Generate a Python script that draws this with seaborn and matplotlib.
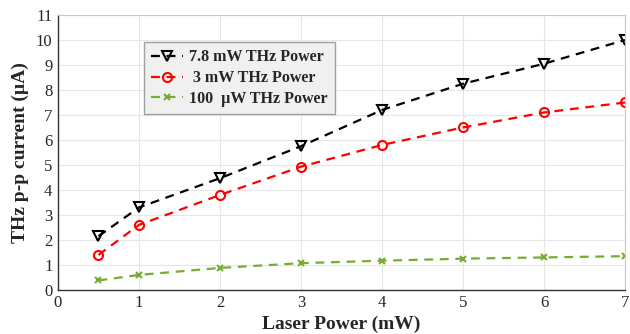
import matplotlib
matplotlib.use("Agg")
import matplotlib.pyplot as plt
import seaborn as sns
import pandas as pd

laser_power = [0.5, 1, 2, 3, 4, 5, 6, 7]
current_7p8mw = [2.15, 3.3, 4.47, 5.75, 7.2, 8.25, 9.05, 10.0]
current_3mw = [1.4, 2.6, 3.8, 4.93, 5.8, 6.5, 7.1, 7.5]
current_100uw = [0.38, 0.6, 0.88, 1.07, 1.17, 1.25, 1.3, 1.35]

series = [
    ("7.8 mW THz Power", current_7p8mw, "black", "v", 6.5),
    (" 3 mW THz Power", current_3mw, "red", "o", 6.5),
    ("100  \u00b5W THz Power", current_100uw, "#77ac30", "x", 5),
]

sns.set_style("whitegrid")
plt.rcParams["font.family"] = ["Liberation Serif", "DejaVu Serif"]

fig = plt.figure(figsize=(6.3, 3.34), dpi=100)
ax = fig.add_axes([0.092, 0.132, 0.9, 0.823])

for label, values, color, marker, msize in series:
    df = pd.DataFrame({"x": laser_power, "y": values})
    sns.lineplot(data=df, x="x", y="y", ax=ax, color=color,
                 linewidth=1.6, marker=marker, markersize=msize,
                 markerfacecolor="none", markeredgecolor=color,
                 markeredgewidth=1.5, label=label, dashes=(4, 3))

ax.set_xlim(0, 7)
ax.set_ylim(0, 11)
ax.set_xticks(range(0, 8))
ax.set_yticks(range(0, 12))
ax.tick_params(labelsize=12, length=0, pad=4)
ax.grid(color="#e6e6e6", linewidth=0.8)
for side in ["left", "bottom"]:
    ax.spines[side].set_color("#333333")
    ax.spines[side].set_linewidth(1.0)
for side in ["top", "right"]:
    ax.spines[side].set_color("#c8c8c8")
    ax.spines[side].set_linewidth(0.8)

ax.set_xlabel("Laser Power (mW)", fontsize=14, fontweight="bold", labelpad=3)
ax.set_ylabel("THz p-p current (\u00b5A)", fontsize=14, fontweight="bold", labelpad=5)

leg = ax.legend(loc="upper left", bbox_to_anchor=(0.137, 0.93),
                prop={"weight": "bold", "size": 11.5}, frameon=True,
                fancybox=False, handlelength=2.0, borderpad=0.45,
                labelspacing=0.3, handletextpad=0.4)
leg.get_frame().set_facecolor("#f0f0f0")
leg.get_frame().set_edgecolor("#a0a0a0")
leg.get_frame().set_alpha(1)

fig.savefig("out.png", dpi=100)
